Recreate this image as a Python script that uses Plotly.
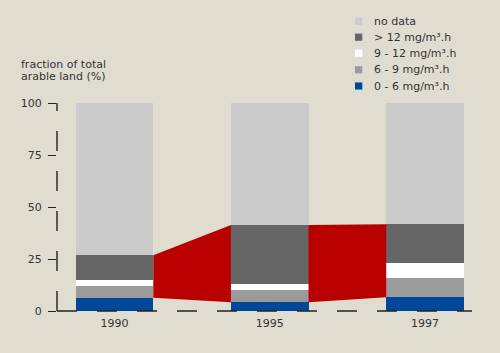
import plotly.graph_objects as go

years = ["1990", "1995", "1997"]
series_names = ["0 - 6 mg/m³.h", "6 - 9 mg/m³.h", "9 - 12 mg/m³.h", "> 12 mg/m³.h", "no data"]
v_0_6 = [6.4, 4.2, 6.6]
v_6_9 = [5.8, 5.9, 9.1]
v_9_12 = [2.7, 2.9, 7.2]
v_gt12 = [11.9, 28.3, 18.8]
v_nodata = [73.2, 58.7, 58.3]
yticks = [0, 25, 50, 75, 100]

colors = ["#00479a", "#9b9b9b", "#ffffff", "#666666", "#cbcbcb"]
BG = "#dfddcf"
TXT = "#333333"
FONT = "DejaVu Sans"

xs = list(range(len(years)))
series = [v_0_6, v_6_9, v_9_12, v_gt12, v_nodata]

fig = go.Figure()
for name, vals, col in zip(series_names, series, colors):
    fig.add_trace(go.Bar(x=xs, y=vals, name=name, width=0.5, marker=dict(color=col, line=dict(width=0)),
                         showlegend=False))

# red band: share above 6 mg/m3.h between bar edges
upper = [a + b + c + d for a, b, c, d in zip(v_0_6, v_6_9, v_9_12, v_gt12)]
lower = v_0_6
for i in range(len(years) - 1):
    fig.add_trace(go.Scatter(
        x=[xs[i] + 0.25, xs[i + 1] - 0.25, xs[i + 1] - 0.25, xs[i] + 0.25],
        y=[upper[i], upper[i + 1], lower[i + 1], lower[i]],
        fill="toself", fillcolor="#b80000", mode="lines", line=dict(width=0, color="#b80000"),
        showlegend=False, hoverinfo="skip"))

# dashed axis lines
fig.add_shape(type="line", xref="paper", yref="paper", x0=0, y0=0, x1=0, y1=1,
              line=dict(color="#222222", width=1.4, dash="20px,20px"), layer="above")
fig.add_shape(type="line", xref="paper", yref="paper", x0=0, y0=0, x1=1, y1=0,
              line=dict(color="#222222", width=1.4, dash="20px,20px"), layer="above")

# legend (manual)
W, H, L, T = 415.0, 208.0, 57.0, 103.0
def px2paper(px, py):
    return (px - L) / W, (T + H - py) / H

leg_rows_y = [21.3, 37.2, 53.2, 69.8, 86.0]
leg_order = [4, 3, 2, 1, 0]
for ry, idx in zip(leg_rows_y, leg_order):
    x0, y0 = px2paper(355, ry + 3.6)
    x1, y1 = px2paper(362.3, ry - 3.6)
    fig.add_shape(type="rect", xref="paper", yref="paper", x0=x0, y0=y0, x1=x1, y1=y1,
                  fillcolor=colors[idx], line=dict(width=0))
    tx, ty = px2paper(372, ry)
    fig.add_annotation(xref="paper", yref="paper", x=tx, y=ty, xanchor="left", yanchor="middle",
                       text=series_names[idx], showarrow=False,
                       font=dict(family=FONT, size=11, color=TXT))

for line_text, py in [("fraction of total", 64.5), ("arable land (%)", 76.0)]:
    tx, ty = px2paper(19, py)
    fig.add_annotation(xref="paper", yref="paper", x=tx, y=ty, xanchor="left", yanchor="middle",
                       text=line_text, showarrow=False, font=dict(family=FONT, size=11, color=TXT))

fig.update_layout(
    width=500, height=353,
    margin=dict(l=57, r=28, t=103, b=42),
    paper_bgcolor=BG, plot_bgcolor=BG,
    barmode="stack", bargap=0.5,
    font=dict(family=FONT, size=11, color=TXT),
    xaxis=dict(range=[-57.5 / 155.25, 2 + 47 / 155.25], tickmode="array", tickvals=xs, ticktext=years,
               showgrid=False, zeroline=False, showline=False, ticks="", ticklabelstandoff=4),
    yaxis=dict(range=[0, 100], tickmode="array", tickvals=yticks, showgrid=False, zeroline=False,
               showline=False, ticks="outside", ticklen=8, tickwidth=1.4, tickcolor="#222222",
               ticklabelstandoff=4),
)

fig.write_html("out.html")
